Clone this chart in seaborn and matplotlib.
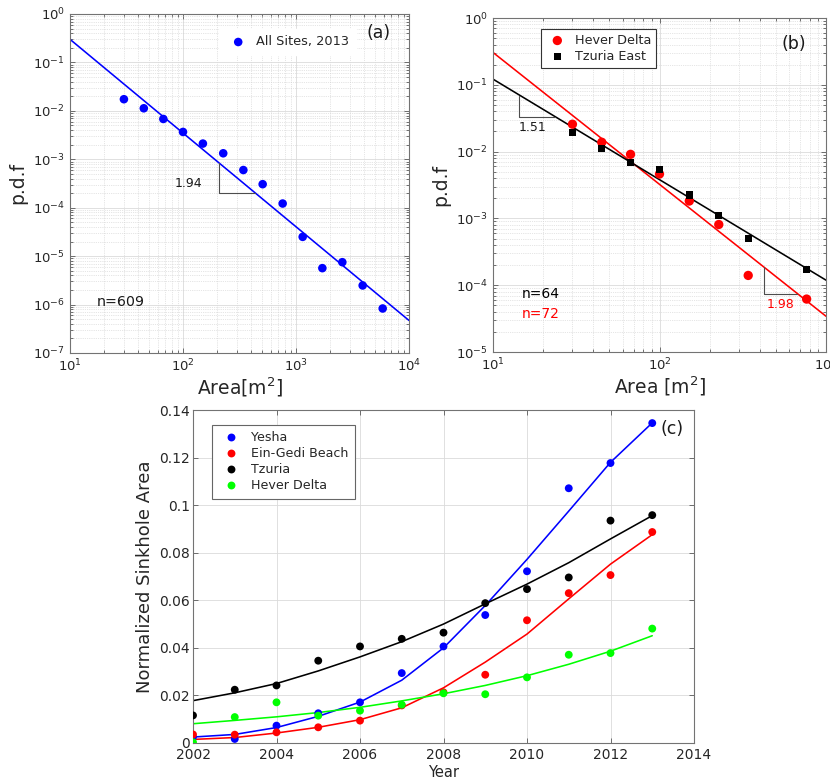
import numpy as np
import pandas as pd
import matplotlib.pyplot as plt
import seaborn as sns
from matplotlib.ticker import LogLocator, NullFormatter, MultipleLocator, FuncFormatter

# ---------------- data ----------------
# (a) all sites, 2013 : binned p.d.f of sinkhole area
area_a = [30, 45, 67, 100, 150, 227, 342, 507, 762, 1146, 1711, 2570, 3890, 5850]
pdf_a = [1.74e-2, 1.13e-2, 6.8e-3, 3.67e-3, 2.11e-3, 1.33e-3, 6.0e-4, 3.06e-4,
         1.22e-4, 2.5e-5, 5.65e-6, 7.5e-6, 2.48e-6, 8.3e-7]
fit_a_x = [10, 1e4]
fit_a_y = [0.30, 4.7e-7]
tri_a_x = [210, 210, 434]
tri_a_y = [8.3e-4, 2.0e-4, 2.0e-4]

# (b) Hever Delta vs Tzuria East
area_b = [30, 45, 67, 100, 151, 227, 341, 765]
pdf_hever = [0.0257, 0.0138, 0.0091, 0.00462, 0.00182, 0.00081, 1.40e-4, 6.2e-5]
pdf_tzuria_east = [0.0195, 0.0112, 0.00684, 0.00543, 0.00224, 0.00112, 5.0e-4, 1.72e-4]
fit_b_x = [10, 1000]
fit_hever_y = [0.305, 3.43e-5]
fit_tzuria_y = [0.1216, 1.19e-4]
tri_black_x = [14.3, 14.3, 23.5]
tri_black_y = [0.069, 0.0327, 0.0327]
tri_red_x = [425, 425, 667]
tri_red_y = [1.85e-4, 7.3e-5, 7.3e-5]

# (c) normalized sinkhole area per year
years = [2002, 2003, 2004, 2005, 2006, 2007, 2008, 2009, 2010, 2011, 2012, 2013]
sites = ['Yesha', 'Ein-Gedi Beach', 'Tzuria', 'Hever Delta']
site_colors = ['blue', 'red', 'black', (0, 1, 0)]
yesha = [0.0025, 0.0017, 0.0073, 0.0125, 0.0171, 0.0294, 0.0406, 0.0538, 0.0722, 0.1071, 0.1177, 0.1345]
ein_gedi = [0.0036, 0.0035, 0.0045, 0.0066, 0.0094, 0.0158, 0.0213, 0.0287, 0.0516, 0.0630, 0.0706, 0.0887]
tzuria = [0.0116, 0.0224, 0.0242, 0.0346, 0.0406, 0.0438, 0.0464, 0.0588, 0.0647, 0.0696, 0.0935, 0.0958]
hever = [0.0003, 0.0109, 0.0171, 0.0115, 0.0136, 0.0161, 0.0209, 0.0205, 0.0276, 0.0371, 0.0378, 0.0481]
# fitted curves, read at each year
fit_yesha = [0.0025, 0.0036, 0.0065, 0.0112, 0.0172, 0.0264, 0.0400, 0.0578, 0.0772, 0.0975, 0.1180, 0.1346]
fit_ein_gedi = [0.0015, 0.0023, 0.0042, 0.0066, 0.0098, 0.0148, 0.0232, 0.0340, 0.0458, 0.0606, 0.0752, 0.0876]
fit_tzuria = [0.0178, 0.0211, 0.0250, 0.0303, 0.0362, 0.0426, 0.0500, 0.0585, 0.0668, 0.0758, 0.0858, 0.0956]
fit_hever = [0.0081, 0.0095, 0.0110, 0.0128, 0.0150, 0.0177, 0.0207, 0.0242, 0.0283, 0.0331, 0.0386, 0.0451]

# ---------------- style ----------------
sns.set_theme(style='ticks')
plt.rcParams['font.family'] = ['DejaVu Sans']
plt.rcParams['mathtext.default'] = 'regular'
plt.rcParams['axes.unicode_minus'] = False


def style_axes(ax, logscale):
    ax.tick_params(which='both', direction='in', top=True, right=True,
                   color='0.35', labelcolor='0.15', labelsize=9.5, length=3.5, width=0.6)
    ax.tick_params(which='minor', length=2)
    for sp in ax.spines.values():
        sp.set_color('0.45')
        sp.set_linewidth(0.8)
    ax.grid(True, which='major', color='0.86', lw=0.6, ls='-')
    if logscale:
        for axis in (ax.xaxis, ax.yaxis):
            axis.set_major_locator(LogLocator(base=10, numticks=100))
            axis.set_minor_locator(LogLocator(base=10, subs=np.arange(2, 10), numticks=100))
            axis.set_minor_formatter(NullFormatter())
        ax.grid(True, which='minor', color='0.8', lw=0.5, ls=':')
    ax.set_axisbelow(True)


fig = plt.figure(figsize=(8.3, 7.84), dpi=100)
ax_a = fig.add_axes([70 / 830, 1 - 353 / 784, 339 / 830, 339 / 784])
ax_b = fig.add_axes([493 / 830, 1 - 352 / 784, 333 / 830, 334 / 784])
ax_c = fig.add_axes([193 / 830, 1 - 743 / 784, 501 / 830, 333 / 784])

# ---------------- (a) ----------------
sns.lineplot(x=fit_a_x, y=fit_a_y, color='blue', lw=1.15, ax=ax_a, legend=False)
sns.scatterplot(x=area_a, y=pdf_a, color='blue', s=38, edgecolor='none',
                label='All Sites, 2013', ax=ax_a, zorder=3)
ax_a.plot(tri_a_x, tri_a_y, color='0.3', lw=0.8)
ax_a.set(xscale='log', yscale='log')
ax_a.set_xlim(10, 1e4)
ax_a.set_ylim(1e-7, 1)
style_axes(ax_a, True)
ax_a.set_xlabel('Area[m$^2$]', fontsize=13.5, color='0.15', labelpad=1)
ax_a.set_ylabel('p.d.f', fontsize=13.5, color='0.15')
ax_a.legend(loc='upper left', bbox_to_anchor=(0.42, 0.975), frameon=True, facecolor='white',
            edgecolor='white', framealpha=1, fancybox=False, fontsize=9.3,
            handletextpad=0.4, borderpad=0.5)
ax_a.text(0.909, 0.944, '(a)', transform=ax_a.transAxes, fontsize=12.5, color='0.1',
          ha='center', va='center')
ax_a.text(0.35, 0.501, '1.94', transform=ax_a.transAxes, fontsize=9, color='0.1',
          ha='center', va='center')
ax_a.text(0.15, 0.151, 'n=609', transform=ax_a.transAxes, fontsize=10.3, color='0.1',
          ha='center', va='center')

# ---------------- (b) ----------------
sns.lineplot(x=fit_b_x, y=fit_hever_y, color='red', lw=1.15, ax=ax_b, legend=False)
sns.lineplot(x=fit_b_x, y=fit_tzuria_y, color='black', lw=1.15, ax=ax_b, legend=False)
sns.scatterplot(x=area_b, y=pdf_hever, color='red', s=45, marker='o', edgecolor='none',
                label='Hever Delta', ax=ax_b, zorder=3)
sns.scatterplot(x=area_b, y=pdf_tzuria_east, color='black', s=26, marker='s', edgecolor='none',
                label='Tzuria East', ax=ax_b, zorder=4)
ax_b.plot(tri_black_x, tri_black_y, color='0.3', lw=0.8)
ax_b.plot(tri_red_x, tri_red_y, color='0.3', lw=0.8)
ax_b.set(xscale='log', yscale='log')
ax_b.set_xlim(10, 1000)
ax_b.set_ylim(1e-5, 1)
style_axes(ax_b, True)
ax_b.set_xlabel('Area [m$^2$]', fontsize=13.5, color='0.15', labelpad=1)
ax_b.set_ylabel('p.d.f', fontsize=13.5, color='0.15')
ax_b.legend(loc='upper left', bbox_to_anchor=(0.126, 0.985), frameon=True, facecolor='white',
            edgecolor='0.2', framealpha=1, fancybox=False, fontsize=9.2,
            handletextpad=0.5, borderpad=0.35, labelspacing=0.25, handlelength=1.8)
ax_b.get_legend().get_frame().set_linewidth(0.8)
ax_b.text(0.904, 0.922, '(b)', transform=ax_b.transAxes, fontsize=12.5, color='0.1',
          ha='center', va='center')
ax_b.text(0.119, 0.672, '1.51', transform=ax_b.transAxes, fontsize=9, color='0.1',
          ha='center', va='center')
ax_b.text(0.864, 0.143, '1.98', transform=ax_b.transAxes, fontsize=9, color='red',
          ha='center', va='center')
ax_b.text(0.143, 0.174, 'n=64', transform=ax_b.transAxes, fontsize=10, color='black',
          ha='center', va='center')
ax_b.text(0.143, 0.114, 'n=72', transform=ax_b.transAxes, fontsize=10, color='red',
          ha='center', va='center')

# ---------------- (c) ----------------
pts = pd.DataFrame({
    'Year': years * 4,
    'Area': yesha + ein_gedi + tzuria + hever,
    'Site': [s for s in sites for _ in years],
})
fits = pd.DataFrame({
    'Year': years * 4,
    'Fit': fit_yesha + fit_ein_gedi + fit_tzuria + fit_hever,
    'Site': [s for s in sites for _ in years],
})
palette = dict(zip(sites, site_colors))

sns.lineplot(data=fits, x='Year', y='Fit', hue='Site', palette=palette, lw=1.15,
             legend=False, ax=ax_c)
sns.scatterplot(data=pts, x='Year', y='Area', hue='Site', palette=palette, s=32,
                edgecolor='none', ax=ax_c, zorder=3)
ax_c.set_xlim(2002, 2014)
ax_c.set_ylim(0, 0.14)
ax_c.xaxis.set_major_locator(MultipleLocator(2))
ax_c.yaxis.set_major_locator(MultipleLocator(0.02))
ax_c.yaxis.set_major_formatter(FuncFormatter(lambda v, p: f'{v:g}'))
style_axes(ax_c, False)
ax_c.tick_params(labelsize=10)
ax_c.tick_params(axis='y', pad=2)
ax_c.set_xlabel('Year', fontsize=10.5, color='0.15', labelpad=2)
ax_c.set_ylabel('Normalized Sinkhole Area', fontsize=13, color='0.15')
sns.move_legend(ax_c, 'upper left', bbox_to_anchor=(0.025, 0.975), title=None,
                frameon=True, facecolor='white', edgecolor='0.4', framealpha=1,
                fancybox=False, fontsize=9.1, labelspacing=0.25, handlelength=2.0,
                handletextpad=0.6, borderpad=0.5)
ax_c.get_legend().get_frame().set_linewidth(0.8)
ax_c.text(0.957, 0.942, '(c)', transform=ax_c.transAxes, fontsize=12.5, color='0.1',
          ha='center', va='center')

fig.savefig('out.png', dpi=100)
